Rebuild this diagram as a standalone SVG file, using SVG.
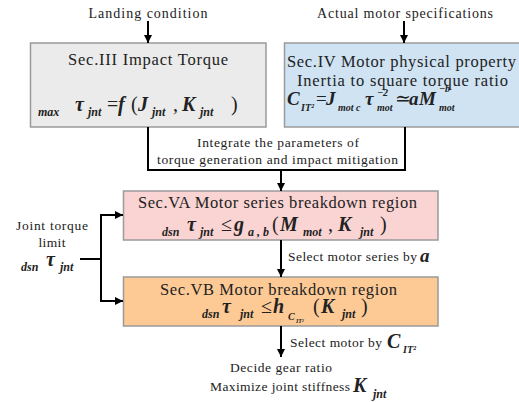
<svg xmlns="http://www.w3.org/2000/svg" width="519" height="402" viewBox="0 0 519 402">
<defs>
<marker id="ah" viewBox="0 0 10 10" refX="10" refY="5" markerWidth="9" markerHeight="8" markerUnits="userSpaceOnUse" orient="auto">
<path d="M0,0 L10,5 L0,10 z" fill="#000"/>
</marker>
<style>
text{font-family:"Liberation Serif","DejaVu Serif",serif;fill:#222}
.m{font-style:italic;font-weight:bold}
.r{font-style:normal;font-weight:normal}
.box{stroke:#9a9a9a;stroke-width:1.5}
.c{fill:none;stroke:#000;stroke-width:2}
.a{marker-end:url(#ah)}
</style>
</defs>
<rect width="519" height="402" fill="#fff"/>

<g id="landing">
<text x="148" y="18" font-size="14" text-anchor="middle" textLength="119">Landing condition</text>
</g>
<g id="actual">
<text x="405" y="18" font-size="14" text-anchor="middle" textLength="176">Actual motor specifications</text>
</g>

<g id="impact">
<rect class="box" x="30.5" y="43" width="235.5" height="84" fill="#ebebeb"/>
<text x="148" y="65" font-size="16.5" text-anchor="middle" textLength="160">Sec.III Impact Torque</text>
<text class="m" font-size="20">
<tspan x="38" y="116" font-size="12">max</tspan>
<tspan x="75" y="111">τ</tspan>
<tspan x="88" y="116" font-size="12">jnt</tspan>
<tspan x="107" y="111" class="r">=</tspan>
<tspan x="118" y="111">f</tspan>
<tspan x="131" y="111" class="r">(</tspan>
<tspan x="138" y="111">J</tspan>
<tspan x="152" y="116" font-size="12">jnt</tspan>
<tspan x="173" y="111" class="r">,</tspan>
<tspan x="182" y="111">K</tspan>
<tspan x="200" y="116" font-size="12">jnt</tspan>
<tspan x="231" y="111" class="r">)</tspan>
</text>
</g>

<g id="motorprop">
<rect class="box" x="284.5" y="43" width="250" height="84" fill="#cfe3f3"/>
<text x="287" y="67" font-size="16.5" textLength="229">Sec.IV Motor physical property</text>
<text x="297" y="86" font-size="16.5" textLength="211">Inertia to square torque ratio</text>
<text class="m" font-size="19">
<tspan x="287" y="105">C</tspan>
<tspan x="301" y="111" font-size="10">IT²</tspan>
<tspan x="316" y="105" class="r">=</tspan>
<tspan x="326" y="105">J</tspan>
<tspan x="338" y="111" font-size="10">mot c</tspan>
<tspan x="365" y="105">τ</tspan>
<tspan x="377" y="96" font-size="10">−2</tspan>
<tspan x="377" y="111" font-size="10">mot</tspan>
<tspan x="395" y="105" class="r">≃</tspan>
<tspan x="409" y="105">a</tspan>
<tspan x="419" y="105">M</tspan>
<tspan x="439" y="92" font-size="10">−b</tspan>
<tspan x="439" y="111" font-size="10">mot</tspan>
</text>
</g>

<g id="integrate">
<text x="278" y="147" font-size="13.5" text-anchor="middle" textLength="162">Integrate the parameters of</text>
<text x="277.5" y="164" font-size="13.5" text-anchor="middle" textLength="241">torque generation and impact mitigation</text>
</g>

<g id="series">
<rect class="box" x="123.5" y="191" width="314.5" height="49" fill="#fad4d2"/>
<text x="277.5" y="208" font-size="16.5" text-anchor="middle" textLength="279">Sec.VA Motor series breakdown region</text>
<text class="m" font-size="20">
<tspan x="162" y="236" font-size="12">dsn</tspan>
<tspan x="187" y="231">τ</tspan>
<tspan x="200" y="236" font-size="12">jnt</tspan>
<tspan x="221" y="231" class="r">≤</tspan>
<tspan x="234" y="231">g</tspan>
<tspan x="248" y="236" font-size="12">a , b</tspan>
<tspan x="272" y="231" class="r">(</tspan>
<tspan x="280" y="231">M</tspan>
<tspan x="303" y="236" font-size="12">mot</tspan>
<tspan x="328" y="231" class="r">,</tspan>
<tspan x="338" y="231">K</tspan>
<tspan x="360" y="236" font-size="12">jnt</tspan>
<tspan x="380" y="231" class="r">)</tspan>
</text>
</g>

<g id="breakdown">
<rect class="box" x="123.5" y="277" width="314.5" height="49" fill="#fdca96"/>
<text x="278.5" y="295" font-size="16.5" text-anchor="middle" textLength="237">Sec.VB Motor breakdown region</text>
<text class="m" font-size="20">
<tspan x="202" y="318" font-size="12">dsn</tspan>
<tspan x="222" y="313">τ</tspan>
<tspan x="240" y="318" font-size="12">jnt</tspan>
<tspan x="261" y="313" class="r">≤</tspan>
<tspan x="273" y="313">h</tspan>
<tspan x="288" y="320" font-size="10">C</tspan>
<tspan x="296" y="323" font-size="6">IT²</tspan>
<tspan x="313" y="313" class="r">(</tspan>
<tspan x="321" y="313">K</tspan>
<tspan x="342" y="318" font-size="12">jnt</tspan>
<tspan x="361" y="313" class="r">)</tspan>
</text>
</g>

<g id="selectseries">
<text x="288" y="261" font-size="13.5" textLength="129">Select motor series by</text>
<text class="m" x="420" y="262" font-size="19">a</text>
</g>

<g id="selectmotor">
<text x="290" y="347" font-size="13.5" textLength="92">Select motor by</text>
<text class="m" font-size="20"><tspan x="387" y="348">C</tspan><tspan x="403" y="353" font-size="10">IT²</tspan></text>
</g>

<g id="result">
<text x="281" y="372" font-size="13.5" text-anchor="middle" textLength="102">Decide gear ratio</text>
<text x="210" y="391" font-size="13.5" textLength="140">Maximize joint stiffness</text>
<text class="m" font-size="20"><tspan x="353" y="392">K</tspan><tspan x="373" y="398" font-size="12">jnt</tspan></text>
</g>

<g id="jointlimit">
<text x="52" y="230" font-size="13.5" text-anchor="middle" textLength="72">Joint torque</text>
<text x="52" y="247" font-size="13.5" text-anchor="middle" textLength="27">limit</text>
<text class="m" font-size="20"><tspan x="21" y="271" font-size="12">dsn</tspan><tspan x="46" y="266">τ</tspan><tspan x="60" y="271" font-size="12">jnt</tspan></text>
</g>

<g id="connectors">
<line class="c a" x1="148" y1="21" x2="148" y2="43"/>
<line class="c a" x1="404" y1="21" x2="404" y2="43"/>
<polyline class="c" points="148,127 148,170 405,170 405,127"/>
<line class="c a" x1="281" y1="170" x2="281" y2="191"/>
<line class="c a" x1="281" y1="240" x2="281" y2="277"/>
<line class="c a" x1="281" y1="326" x2="281" y2="357"/>
<line class="c" x1="80" y1="259" x2="101" y2="259"/>
<polyline class="c a" points="122,215 101,215 101,301 123,301"/>
<line class="c a" x1="101" y1="215" x2="123" y2="215"/>
</g>
</svg>
